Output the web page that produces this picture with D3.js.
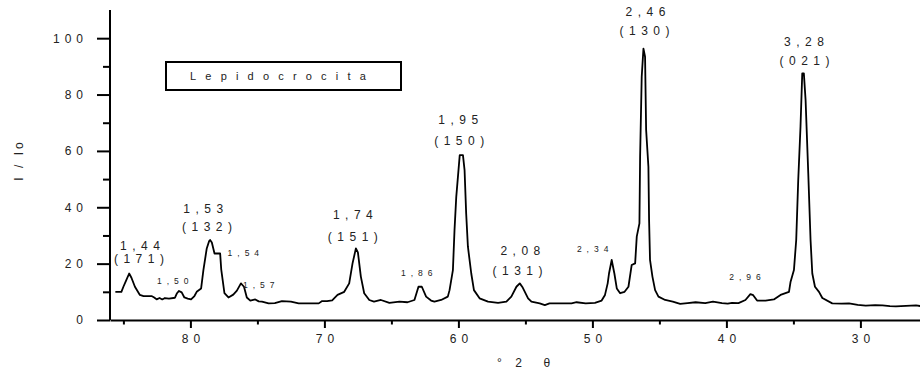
<!DOCTYPE html>
<html>
<head>
<meta charset="utf-8">
<script src="https://cdn.jsdelivr.net/npm/d3@7/dist/d3.min.js"></script>
<style>
  html, body { margin: 0; padding: 0; background: #fff; }
  svg { display: block; font-family: Arial, "Liberation Sans", sans-serif; }
</style>
</head>
<body>
<svg id="chart" width="920" height="377"></svg>
<script>
// Diffraction pattern of lepidocrocite: 2θ (degrees) and relative intensity I/Io
const twoTheta = [
  85.6, 85.15, 85.0, 84.8, 84.57, 84.4, 84.14, 83.77, 83.5, 82.9, 82.7, 82.52, 82.3, 82.1, 81.9, 81.6,
  81.15, 81.0, 80.85, 80.65, 80.45, 80.2, 79.95, 79.7, 79.53, 79.2, 79.03, 78.78, 78.6, 78.53, 78.4,
  78.2, 77.78, 77.7, 77.46, 77.16, 76.8, 76.53, 76.23, 76.0, 75.79, 75.53, 75.16, 74.9, 74.66, 74.16,
  73.7, 73.17, 72.5, 71.92, 71.2, 70.42, 70.17, 69.8, 69.42, 69.02, 68.52, 68.15, 67.9, 67.65, 67.5,
  67.28, 67.03, 66.65, 66.3, 65.78, 65.15, 64.4, 63.8, 63.28, 62.98, 62.73, 62.41, 62.04, 61.79, 61.29,
  60.79, 60.66, 60.41, 60.29, 60.16, 59.9, 59.66, 59.54, 59.42, 59.29, 59.04, 58.84, 58.42, 57.79,
  57.04, 56.42, 56.05, 55.67, 55.42, 55.2, 54.8, 54.55, 53.93, 53.55, 53.2, 52.3, 51.56, 51.18, 50.5,
  49.81, 49.31, 49.06, 48.86, 48.76, 48.56, 48.36, 48.18, 47.93, 47.6, 47.31, 47.07, 46.81, 46.69,
  46.49, 46.44, 46.32, 46.19, 46.07, 45.99, 45.82, 45.77, 45.7, 45.52, 45.32, 45.07, 44.57, 44.0,
  43.45, 42.9, 42.3, 41.58, 41.0, 40.33, 39.9, 39.58, 39.1, 38.58, 38.21, 38.0, 37.71, 37.08, 36.46,
  35.96, 35.33, 35.21, 34.96, 34.79, 34.64, 34.47, 34.34, 34.22, 34.09, 33.89, 33.72, 33.59, 33.39,
  33.09, 32.84, 32.1, 31.4, 30.85, 30.2, 29.6, 28.9, 28.35, 27.8, 27.35, 26.6, 25.85, 25.36
];
const intensity = [
  10.0, 10.0, 11.8, 14.0, 16.5, 15.0, 11.8, 8.9, 8.5, 8.5, 8.0, 7.3, 7.8, 7.3, 7.8, 7.6,
  7.9, 9.5, 10.3, 9.8, 8.0, 7.6, 7.3, 8.5, 10.0, 11.2, 17.7, 25.4, 28.0, 28.4, 27.5,
  23.6, 23.6, 18.0, 9.5, 8.0, 9.0, 10.4, 13.0, 11.8, 8.0, 6.9, 7.3, 6.6, 6.5, 5.9,
  6.0, 6.7, 6.5, 5.9, 5.9, 5.9, 6.7, 6.7, 7.0, 8.9, 10.0, 13.0, 20.1, 25.4, 24.0,
  15.4, 9.5, 7.1, 6.5, 7.1, 6.1, 6.5, 6.3, 7.1, 11.8, 11.8, 8.3, 6.9, 6.5, 7.1,
  8.3, 10.6, 17.7, 31.9, 43.7, 58.5, 58.5, 53.2, 37.8, 26.0, 16.5, 10.6, 7.7, 6.5,
  6.1, 6.5, 8.3, 11.8, 13.0, 11.5, 7.7, 6.5, 5.9, 5.3, 5.9, 5.9, 5.9, 6.3, 5.9,
  6.1, 6.9, 8.9, 13.0, 16.5, 21.3, 16.5, 11.2, 9.5, 10.0, 11.8, 19.5, 20.1, 29.6,
  34.3, 57.9, 86.3, 96.3, 93.4, 67.4, 54.4, 35.5, 21.3, 15.4, 10.6, 8.3, 7.1, 6.5,
  5.7, 6.0, 6.3, 6.0, 6.5, 6.0, 5.8, 6.1, 6.0, 7.1, 9.2, 8.8, 6.9, 6.9, 7.3,
  8.9, 10.0, 13.6, 17.7, 28.4, 49.6, 68.6, 87.5, 87.5, 78.0, 52.0, 28.4, 16.5, 11.8,
  10.0, 7.8, 5.9, 5.8, 5.9, 5.4, 5.1, 5.3, 5.2, 4.9, 4.8, 5.0, 5.2, 4.8
];

// Axis ticks
const xMajorTicks = [80, 70, 60, 50, 40, 30];
const xMinorTicks = [85, 75, 65, 55, 45, 35];
const yMajorTicks = [0, 20, 40, 60, 80, 100];
const yMinorTicks = [10, 30, 50, 70, 90];

// Peak annotations: interplanar spacing d (Å), Miller indices, anchor (2θ, I/Io)
const peakSpacing = ["1,44", "1,50", "1,53", "1,54", "1,57", "1,74", "1,86", "1,95", "2,08", "2,34", "2,46", "2,96", "3,28"];
const peakTheta   = [83.76, 81.32, 79.04, 76.05, 74.9, 67.88, 63.11, 60.01, 55.38, 49.98, 46.04, 38.61, 34.21];
const peakLevel   = [26.4, 13.8, 39.4, 23.8, 12.4, 37.5, 16.7, 71.0, 24.4, 25.1, 109.3, 15.4, 98.8];
const peakHkl      = ["(171)", "", "(132)", "", "", "(151)", "", "(150)", "(131)", "", "(130)", "", "(021)"];
const peakHklTheta = [83.84, null, 78.76, null, null, 67.88, null, 59.94, 55.59, null, 46.11, null, 34.17];
const peakHklLevel = [21.6, null, 33.1, null, null, 29.5, null, 63.7, 17.5, null, 102.6, null, 92.0];

const legendLabel = "Lepidocrocita";
const xTitle = "°\u00a02\u00a0\u00a0θ";
const yTitle = "I / Io";

const svg = d3.select("#chart");

const x = d3.scaleLinear().domain([86, 25]).range([110, 927.4]);
const y = d3.scaleLinear().domain([0, 110]).range([320, 10]);

const ink = "#000";
const textInk = "#222";

// Pattern trace
const points = twoTheta.map((t, i) => [t, intensity[i]]);
svg.append("path")
  .datum(points)
  .attr("fill", "none")
  .attr("stroke", ink)
  .attr("stroke-width", 1.8)
  .attr("stroke-linejoin", "round")
  .attr("d", d3.line().x(d => x(d[0])).y(d => y(d[1])));

// X axis
const xAxisG = svg.append("g").attr("transform", `translate(0,${y(0)})`);
xAxisG.call(d3.axisBottom(x).tickValues(xMajorTicks).tickSize(8).tickSizeOuter(0).tickPadding(6).tickFormat(d3.format("d")));
xAxisG.append("g").call(d3.axisBottom(x).tickValues(xMinorTicks).tickSize(4.5).tickFormat(""))
  .select(".domain").remove();

// Y axis
const yAxisG = svg.append("g").attr("transform", `translate(${x(86)},0)`);
yAxisG.call(d3.axisLeft(y).tickValues(yMajorTicks).tickSize(13).tickSizeOuter(0).tickPadding(9).tickFormat(d3.format("d")));
yAxisG.append("g").call(d3.axisLeft(y).tickValues(yMinorTicks).tickSize(7).tickFormat(""))
  .select(".domain").remove();
// extend the y axis line to the top of the frame
yAxisG.select(".domain").attr("d", `M0,${y(0)}V${y(110)}`);

svg.selectAll(".domain, .tick line").attr("stroke", ink).attr("stroke-width", 2);
svg.selectAll(".tick text")
  .attr("fill", textInk)
  .attr("font-size", 12)
  .attr("font-family", "Arial, 'Liberation Sans', sans-serif")
  .style("letter-spacing", "5px");
xAxisG.selectAll(".tick text").attr("dx", 2.5);

// Axis titles
svg.append("text")
  .attr("x", 497).attr("y", 367)
  .attr("fill", textInk).attr("font-size", 12)
  .style("letter-spacing", "5px")
  .text(xTitle);

svg.append("text")
  .attr("transform", `translate(23,160) rotate(-90)`)
  .attr("text-anchor", "middle")
  .attr("fill", textInk).attr("font-size", 12)
  .style("letter-spacing", "3px")
  .text(yTitle);

// Legend box
svg.append("rect")
  .attr("x", 166).attr("y", 62).attr("width", 235).attr("height", 28)
  .attr("fill", "#fff").attr("stroke", ink).attr("stroke-width", 2);
svg.append("text")
  .attr("x", 190).attr("y", 80)
  .attr("fill", textInk).attr("font-size", 11)
  .style("letter-spacing", "9.2px")
  .text(legendLabel);

// Peak labels: spacing line, then Miller indices underneath for the main reflections
const labels = svg.append("g").attr("fill", textInk).attr("text-anchor", "middle");
peakSpacing.forEach((s, i) => {
  const major = peakHkl[i] !== "";
  const fs = major ? 12 : 8.5;
  const ls = major ? 5.5 : 5;
  labels.append("text")
    .attr("x", x(peakTheta[i]) + ls / 2)
    .attr("y", y(peakLevel[i]))
    .attr("dy", "0.35em")
    .attr("font-size", fs)
    .style("letter-spacing", ls + "px")
    .text(s);
  if (major) {
    labels.append("text")
      .attr("x", x(peakHklTheta[i]) + ls / 2)
      .attr("y", y(peakHklLevel[i]))
      .attr("dy", "0.35em")
      .attr("font-size", fs)
      .style("letter-spacing", ls + "px")
      .text(peakHkl[i]);
  }
});
</script>
</body>
</html>
